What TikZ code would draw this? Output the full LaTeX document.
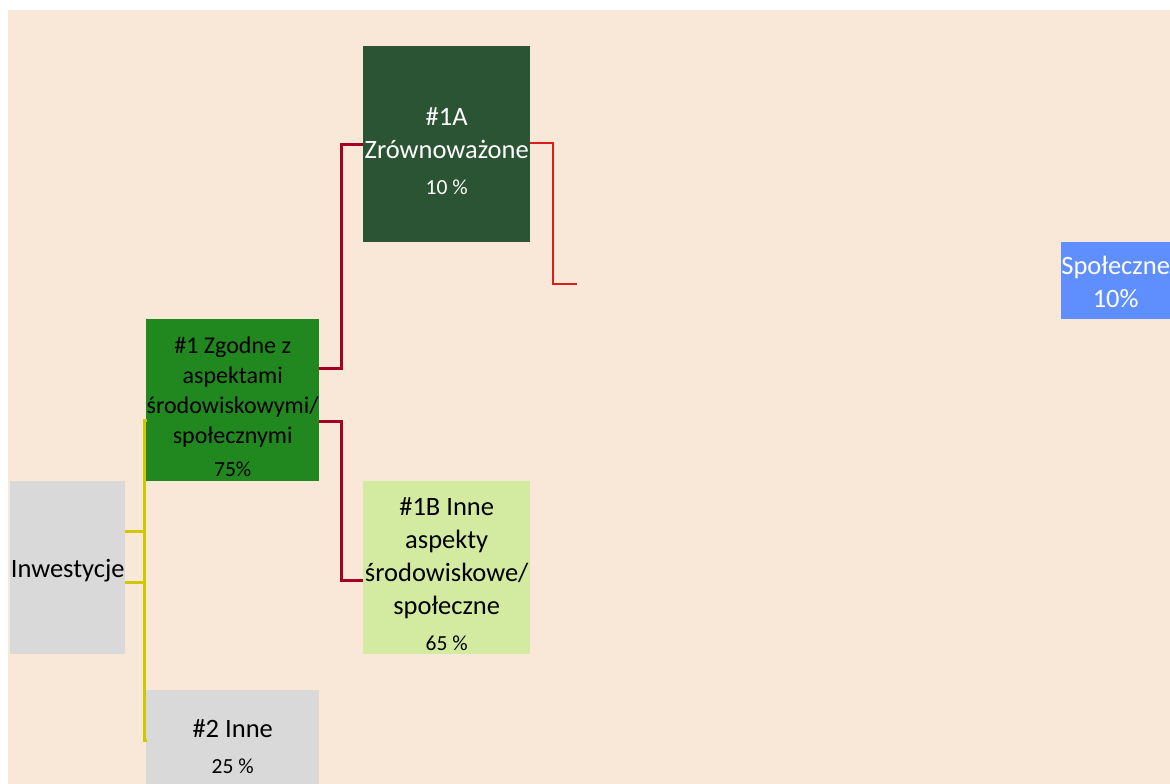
\documentclass[tikz,border=0pt]{standalone}
\usepackage{fontspec}
\setmainfont{Carlito}
\usetikzlibrary{calc}
\definecolor{bgpeach}{HTML}{F9E8D7}
\definecolor{dkgreen}{HTML}{2B5434}
\definecolor{mdgreen}{HTML}{21871F}
\definecolor{ltgreen}{HTML}{D2EBA0}
\definecolor{boxgray}{HTML}{D9D9D9}
\definecolor{boxblue}{HTML}{5F8FFF}
\definecolor{dkred}{HTML}{A50021}
\definecolor{brred}{HTML}{DD1C1C}
\definecolor{yel}{HTML}{CFC800}
\tikzset{
  box/.style={anchor=north west, inner sep=0pt},
  txt/.style={inner sep=0pt, align=center, font=\fontsize{26.5}{33}\selectfont},
  smalltxt/.style={inner sep=0pt, align=center, font=\fontsize{24}{30}\selectfont},
  yline/.style={draw=yel, line width=3pt},
  dline/.style={draw=dkred, line width=3pt},
  rline/.style={draw=brred, line width=2pt},
}
\newcommand{\pctline}[1]{\\[3pt]{\fontsize{21.5}{24}\selectfont #1}}
\begin{document}
\begin{tikzpicture}[x=1pt,y=-1pt]
\useasboundingbox (0,0) rectangle (1170,784);
\fill[bgpeach] (8,10) rectangle (1170,784);
% boxes
\node[box, fill=dkgreen, minimum width=167pt, minimum height=196pt] (a1) at (363,46) {};
\node[box, fill=mdgreen, minimum width=173pt, minimum height=162pt] (z1) at (146,319) {};
\node[box, fill=ltgreen, minimum width=167pt, minimum height=173pt] (b1) at (363,481) {};
\node[box, fill=boxgray, minimum width=115pt, minimum height=173pt] (inw) at (10,481) {};
\node[box, fill=boxgray, minimum width=173pt, minimum height=110pt] (n2) at (146,690) {};
\node[box, fill=boxblue, minimum width=109pt, minimum height=77pt] (sp) at (1061,242) {};
% texts
\node[txt, text=white] (a1t) at ($(a1.center)+(0,7)$) {\#1A\\Zrównoważone\pctline{10 \%}};
\node[smalltxt, text=black] (z1t) at ($(z1.center)+(0,7)$) {\#1 Zgodne z\\aspektami\\środowiskowymi/\\społecznymi\pctline{75\%}};
\node[txt, text=black] (b1t) at ($(b1.center)+(0,6)$) {\#1B Inne\\aspekty\\środowiskowe/\\społeczne\pctline{65 \%}};
\node[txt, text=black] (inwt) at ($(inw.center)+(0,3)$) {Inwestycje};
\node[txt, text=black] (n2t) at ($(n2.center)+(0,1)$) {\#2 Inne\pctline{25 \%}};
\node[txt, text=white] (spt) at ($(sp.center)+(0,1.5)$) {Społeczne\\10\%};
% yellow connectors
\draw[yline] ($(z1.north west)+(1,101)$) -- ++(-3,0) |- ($(n2.north west)+(1,50)$);
\draw[yline] ($(inw.north east)+(0,50)$) -- ++(19,0);
\draw[yline] ($(inw.north east)+(0,101)$) -- ++(19,0);
% dark red connectors
\draw[dline] ($(z1.north east)+(0,49)$) -- ++(22,0) |- ($(a1.north west)+(0,98)$);
\draw[dline] ($(z1.north east)+(0,102)$) -- ++(22,0) |- ($(b1.north west)+(0,99)$);
% red connector
\coordinate (rend) at ($(a1.north east)+(47,238)$);
\draw[rline] ($(a1.north east)+(0,97)$) -- ++(23,0) |- (rend);
\end{tikzpicture}
\end{document}
